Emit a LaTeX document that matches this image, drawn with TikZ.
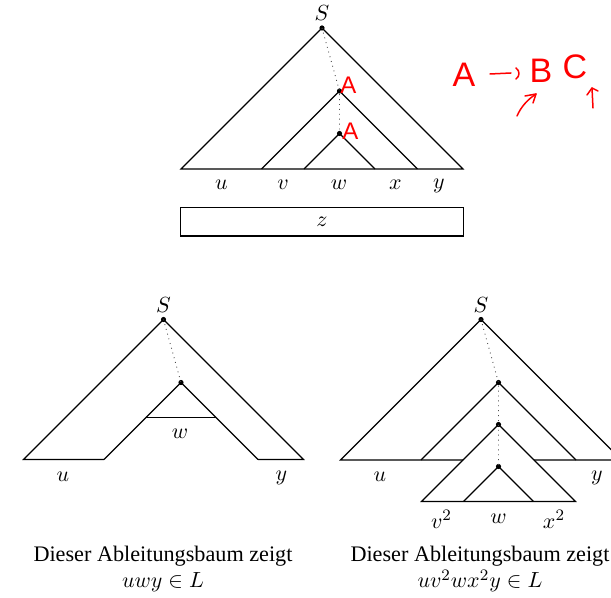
\documentclass[tikz,border=0pt]{standalone}
\usepackage{fontspec}
\setmainfont{Liberation Serif}
\newfontfamily\handfont{Liberation Sans}
\begin{document}
\begin{tikzpicture}[x=0.5pt,y=-0.5pt,
  edge/.style={line width=0.55pt},
  dotl/.style={dotted, line width=0.45pt, black!70},
  dot/.style={circle,fill,inner sep=0pt,minimum size=2.6pt},
  lbl/.style={font=\fontsize{11.1}{13}\selectfont, inner sep=0pt},
  hand/.style={red, inner sep=0pt, font=\handfont\fontsize{12}{14}\selectfont},
  bighand/.style={red, inner sep=0pt, font=\handfont\fontsize{17}{20}\selectfont},
  redstroke/.style={red, line width=0.75pt, line cap=round, line join=round}
]
\useasboundingbox (0,0) rectangle (611,598);
\clip (0,0) rectangle (611,598);

% ---------------- top tree ----------------
\node[dot] (S1) at (322,28) {};
\node[dot] (T1) at (339.5,91) {};
\node[dot] (T2) at (339.5,133.5) {};
\coordinate (L1) at (181,169);
\coordinate (R1) at (463,169);
\coordinate (L2) at (261.5,169);
\coordinate (R2) at (417.5,169);
\coordinate (L3) at (304,169);
\coordinate (R3) at (375,169);
\draw[edge] (L1) -- (S1.center) -- (R1) -- cycle;
\draw[edge] (L2) -- (T1.center) -- (R2);
\draw[edge] (L3) -- (T2.center) -- (R3);
\draw[dotl] (S1.center) -- (T1.center) -- (T2.center);
\node[lbl] (S1l) at (322,13.5) {$S$};
\node[lbl] (u1) at (221.5,185) {$u$};
\node[lbl] (v1) at (283,185) {$v$};
\node[lbl] (w1) at (339,185) {$w$};
\node[lbl] (x1) at (395.5,185) {$x$};
\node[lbl] (y1) at (439,186) {$y$};
\node[edge, draw, lbl, minimum width=141.5pt, minimum height=14.25pt] (zbox) at (322,221.75) {$z$};

% handwritten annotations
\node[hand] (hA1) at (348.5,85) {A};
\node[hand] (hA2) at (350.5,131) {A};
\node[bighand] (hA) at (464,75) {A};
\node[bighand] (hB) at (541,70.5) {B};
\node[bighand] (hC) at (575,67) {C};
\coordinate (ar1) at (490,74);
\coordinate (ar2) at (511,73);
\draw[redstroke] (ar1) -- (ar2);
\draw[redstroke] (516,68) .. controls (520,71) and (520,76) .. (516,79);
\coordinate (bt1) at (517,116);
\coordinate (bt2) at (536,94);
\draw[redstroke] (bt1) .. controls (521,107) and (527,100) .. (bt2);
\draw[redstroke] (525,96) -- (bt2) -- (533,103);
\coordinate (ct1) at (593,108);
\coordinate (ct2) at (592,88);
\draw[redstroke] (ct1) -- (ct2);
\draw[redstroke] (587,95) -- (ct2) -- (598,91);

% ---------------- bottom left tree ----------------
\node[dot] (S2) at (163.5,319.5) {};
\node[dot] (B1) at (181,382.5) {};
\coordinate (BL) at (23.5,459.5);
\coordinate (BR) at (303.5,459.5);
\coordinate (BL2) at (104,459.5);
\coordinate (BR2) at (258,459.5);
\coordinate (BW1) at (146,417.5);
\coordinate (BW2) at (216,417.5);
\draw[edge] (BL2) -- (BL) -- (S2.center) -- (BR) -- (BR2);
\draw[edge] (BL2) -- (B1.center) -- (BR2);
\draw[edge] (BW1) -- (BW2);
\draw[dotl] (S2.center) -- (B1.center);
\node[lbl] (S2l) at (163.5,305) {$S$};
\node[lbl] (w2) at (180,433.5) {$w$};
\node[lbl] (u2) at (63,476.5) {$u$};
\node[lbl] (y2) at (281.5,477.5) {$y$};

% ---------------- bottom right tree ----------------
\node[dot] (S3) at (481,319.5) {};
\node[dot] (C1) at (498.5,382.5) {};
\node[dot] (C2) at (498.5,424.5) {};
\node[dot] (C3) at (498.5,466.5) {};
\coordinate (CL) at (340.5,460);
\coordinate (CR) at (621.5,460);
\coordinate (CL1) at (421,460);
\coordinate (CR1) at (576,460);
\coordinate (CX1) at (463,460);
\coordinate (CX2) at (534,460);
\coordinate (CL2) at (421.5,501.5);
\coordinate (CR2) at (575.5,501.5);
\coordinate (CL3) at (463.5,501.5);
\coordinate (CR3) at (533.5,501.5);
\draw[edge] (CX1) -- (CL) -- (S3.center) -- (CR) -- (CX2);
\draw[edge] (CL1) -- (C1.center) -- (CR1);
\draw[edge] (CL2) -- (C2.center) -- (CR2) -- cycle;
\draw[edge] (CL3) -- (C3.center) -- (CR3);
\draw[dotl] (S3.center) -- (C1.center) -- (C2.center) -- (C3.center);
\node[lbl] (S3l) at (481,305) {$S$};
\node[lbl] (u3) at (380,476.5) {$u$};
\node[lbl] (y3) at (597,477.5) {$y$};
\node[lbl] (v3) at (441.5,519.5) {$v^2$};
\node[lbl] (w3) at (498.5,518.5) {$w$};
\node[lbl] (x3) at (554,519.5) {$x^2$};

% ---------------- captions ----------------
\node[lbl, anchor=base] (cap1) at (163,561.5) {Dieser Ableitungsbaum zeigt};
\node[lbl, anchor=base] (cap1m) at (163,588) {$uwy\in L$};
\node[lbl, anchor=base] (cap2) at (480,561.5) {Dieser Ableitungsbaum zeigt};
\node[lbl, anchor=base] (cap2m) at (480,588) {$uv^2wx^2y\in L$};
\end{tikzpicture}
\end{document}
